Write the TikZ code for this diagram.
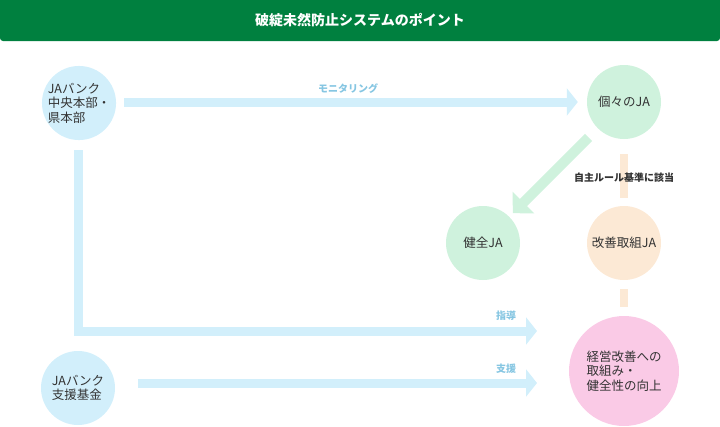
\documentclass[tikz,border=0pt]{standalone}
\usepackage{fontspec}
\setmainfont{Noto Sans CJK JP}
\usepackage{xcolor}
\usetikzlibrary{arrows.meta}

\definecolor{headgreen}{HTML}{00803F}
\definecolor{skyblue}{HTML}{D2EFFB}
\definecolor{mintgreen}{HTML}{CFF2DD}
\definecolor{peach}{HTML}{FCE9D5}
\definecolor{pinkish}{HTML}{FACAE6}
\definecolor{labelblue}{HTML}{86C6E2}
\definecolor{textgray}{HTML}{333333}

\tikzset{
  ball/.style={circle, inner sep=0pt, minimum size=74pt, text=textgray, font=\fontsize{12.5}{14.5}\selectfont, align=left},
  bluearrow/.style={draw=skyblue, line width=9pt, -{Triangle[length=11pt,width=27pt]}},
  greenarrow/.style={draw=mintgreen, line width=10pt, -{Triangle[length=15pt,width=30pt]}},
  peachline/.style={draw=peach, line width=8pt},
  tag/.style={font=\fontsize{10}{11}\selectfont\bfseries, text=labelblue, inner sep=1pt}
}

\begin{document}
\begin{tikzpicture}[x=1pt,y=-1pt]
    \useasboundingbox (0,0) rectangle (720,426);
    \fill[headgreen, rounded corners=3pt] (0,-5) rectangle (720,41);
    \node(title) at (360,20) [text=white, font=\fontsize{14}{16}\selectfont\bfseries] {破綻未然防止システムのポイント};

    \node(jabank)[ball, fill=skyblue] at (79,103) {JAバンク\\中央本部・\\県本部};
    \node(kojin)[ball, fill=mintgreen] at (624,102) {個々のJA};
    \node(kenzen)[ball, fill=mintgreen] at (483,243) {健全JA};
    \node(kaizen)[ball, fill=peach] at (624,243) {改善取組JA};
    \node(keiei)[ball, fill=pinkish, minimum size=110pt] at (624,371) {経営改善への\\取組み・\\健全性の向上};
    \node(kikin)[ball, fill=skyblue] at (78,388) {JAバンク\\支援基金};

    \coordinate(shidoend) at (537,331);
    \coordinate(shienend) at (537,383);

    \draw[bluearrow, shorten <=8pt, shorten >=9pt] (jabank.east |- kojin) -- (kojin);
    \draw[greenarrow, shorten <=13pt, shorten >=5pt] (kojin) -- (kenzen);
    \draw[peachline, shorten <=15pt, shorten >=8pt] (kojin) -- (kaizen);
    \draw[peachline, shorten <=9pt, shorten >=9pt] (kaizen) -- (keiei);
    \draw[bluearrow, shorten <=10pt] ([xshift=-0.5pt]jabank.south) |- (shidoend);
    \draw[bluearrow, shorten <=23pt] (kikin.east |- shienend) -- (shienend);

    \node(monitor)[tag] at (348,89) {モニタリング};
    \node(shido)[tag] at (506,316) {指導};
    \node(shien)[tag] at (506,369) {支援};
    \node(gaito)[tag, text=textgray] at (624,178) {自主ルール基準に該当};
\end{tikzpicture}
\end{document}
